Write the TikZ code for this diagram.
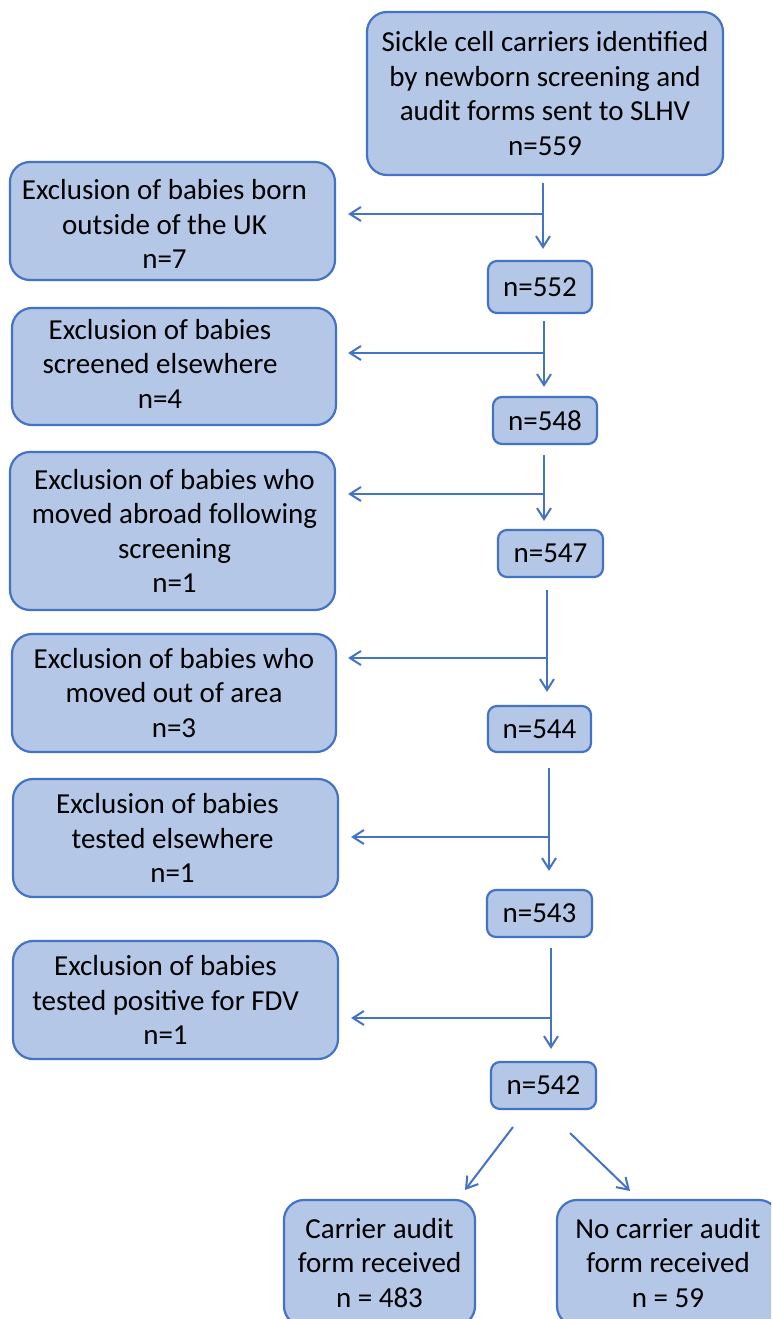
\documentclass[tikz,border=0pt]{standalone}
\usepackage{fontspec}
\setmainfont{Carlito}
\usetikzlibrary{arrows.meta}
\definecolor{boxfill}{HTML}{B4C7E7}
\definecolor{boxline}{HTML}{4472C4}
\begin{document}
\begin{tikzpicture}[x=1pt,y=-1pt,
  font=\fontsize{29}{34.5}\selectfont,
  box/.style={draw=boxline, fill=boxfill, line width=2.2pt, rounded corners=20pt, align=center, inner sep=0pt},
  nbox/.style={box, rounded corners=9pt},
  txt/.style={align=center, inner sep=0pt},
  arr/.style={draw=boxline, line width=2pt, -{Straight Barb[length=11pt,width=14pt]}}]
\clip (0,0) rectangle (771,1319);
\fill[white] (0,0) rectangle (771,1319);
% nodes
\node[box, minimum width=356pt, minimum height=163pt] (top) at (545,93.5) {Sickle cell carriers identified\\by newborn screening and\\audit forms sent to SLHV\\n=559};
\node[box, minimum width=325pt, minimum height=118pt,
  label={[txt,xshift=-8pt,yshift=-3pt]center:{Exclusion of babies born\\outside of the UK\\n=7}}] (L1) at (172.5,221) {};
\node[nbox, minimum width=104pt, minimum height=52pt] (n552) at (540,287) {n=552};
\node[box, minimum width=324pt, minimum height=117pt,
  label={[txt,xshift=-14pt,yshift=3pt]center:{Exclusion of babies\\screened elsewhere\\n=4}}] (L2) at (174,366.5) {};
\node[nbox, minimum width=104pt, minimum height=47pt] (n548) at (545,420.5) {n=548};
\node[box, minimum width=325pt, minimum height=158pt,
  label={[txt,xshift=2pt]center:{Exclusion of babies who\\moved abroad following\\screening\\n=1}}] (L3) at (172.5,531) {};
\node[nbox, minimum width=105pt, minimum height=47pt] (n547) at (550.5,553.5) {n=547};
\node[box, minimum width=324pt, minimum height=118pt] (L4) at (174,693) {Exclusion of babies who\\moved out of area\\n=3};
\node[nbox, minimum width=103pt, minimum height=46pt] (n544) at (539.5,729) {n=544};
\node[box, minimum width=325pt, minimum height=118pt,
  label={[txt,xshift=-3pt]center:{\hspace*{-10pt}Exclusion of babies\\tested elsewhere\\n=1}}] (L5) at (175.5,838) {};
\node[nbox, minimum width=105pt, minimum height=47pt] (n543) at (539.5,913.5) {n=543};
\node[box, minimum width=325pt, minimum height=118pt,
  label={[txt,xshift=-10pt]center:{Exclusion of babies\\tested positive for FDV\\n=1}}] (L6) at (175.5,1000) {};
\node[nbox, minimum width=105pt, minimum height=47pt] (n542) at (543.5,1085.5) {n=542};
\node[box, minimum width=191pt, minimum height=126pt] (B1) at (379.5,1263) {Carrier audit\\form received\\n = 483};
\node[box, minimum width=222pt, minimum height=126pt] (B2) at (668,1263) {No carrier audit\\form received\\n = 59};
% connectors
\coordinate (v1) at (543,183); \coordinate (h1) at (543,214);
\draw[arr, shorten >=11pt] (v1) -- (v1 |- n552.north);
\draw[arr, shorten >=12pt] (h1) -- (h1 -| L1.east);
\coordinate (v2) at (544,321); \coordinate (h2) at (544,353);
\draw[arr, shorten >=9pt] (v2) -- (v2 |- n548.north);
\draw[arr, shorten >=11pt] (h2) -- (h2 -| L2.east);
\coordinate (v3) at (544,455); \coordinate (h3) at (544,494);
\draw[arr, shorten >=8pt] (v3) -- (v3 |- n547.north);
\draw[arr, shorten >=12pt] (h3) -- (h3 -| L3.east);
\coordinate (v4) at (547,590); \coordinate (h4) at (547,658);
\draw[arr, shorten >=13pt] (v4) -- (v4 |- n544.north);
\draw[arr, shorten >=11pt] (h4) -- (h4 -| L4.east);
\coordinate (v5) at (549,768); \coordinate (h5) at (549,837);
\draw[arr, shorten >=18pt] (v5) -- (v5 |- n543.north);
\draw[arr, shorten >=12pt] (h5) -- (h5 -| L5.east);
\coordinate (v6) at (551,948); \coordinate (h6) at (551,1018);
\draw[arr, shorten >=12pt] (v6) -- (v6 |- n542.north);
\draw[arr, shorten >=12pt] (h6) -- (h6 -| L6.east);
\coordinate (d1s) at (513,1127); \coordinate (d1e) at (465,1190);
\coordinate (d2s) at (570,1133); \coordinate (d2e) at (630,1191);
\draw[arr] (d1s) -- (d1e);
\draw[arr] (d2s) -- (d2e);
\end{tikzpicture}
\end{document}
